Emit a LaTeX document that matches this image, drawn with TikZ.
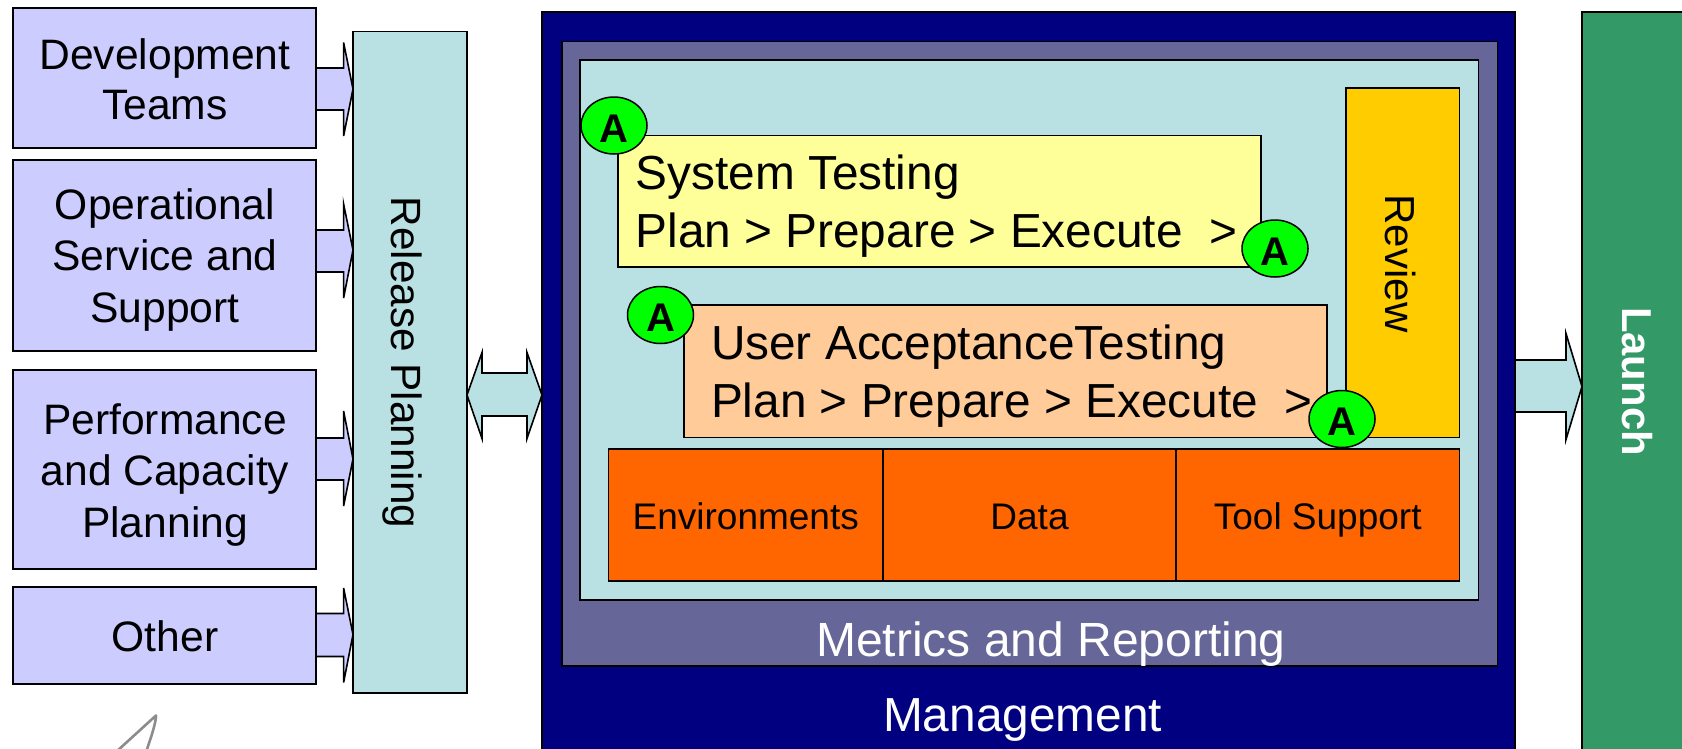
\documentclass[tikz,border=0pt]{standalone}
\usepackage{fontspec}
\setmainfont{Liberation Sans}
\usetikzlibrary{shapes.geometric}
\definecolor{lav}{HTML}{CCCCFF}
\definecolor{pale}{HTML}{B9E0E2}
\definecolor{navy}{HTML}{000080}
\definecolor{slate}{HTML}{666699}
\definecolor{yel}{HTML}{FFFF99}
\definecolor{peach}{HTML}{FFCC99}
\definecolor{gold}{HTML}{FFCC00}
\definecolor{oran}{HTML}{FF6600}
\definecolor{grn}{HTML}{339966}
\definecolor{lime}{HTML}{00FF00}
\newcommand{\fs}[2]{\fontsize{#1}{#2}\selectfont}
\newcommand{\rbox}[6]{\node[panel,fill=#6,minimum width={(#3)-(#1)},minimum height={(#4)-(#2)},#5] at ({((#1)+(#3))/2},{((#2)+(#4))/2})}
\tikzset{
  x=1pt,y=-1pt,
  panel/.style={draw=black,line width=1.6pt,inner sep=0pt,outer sep=0pt,align=center,text=black},
  bigarrow/.style={draw=black,line width=1.6pt,line join=miter},
  badge/.style={ellipse,draw=black,line width=1.5pt,fill=lime,inner sep=0pt,outer sep=0pt,minimum width=66pt,minimum height=57pt,text height=33pt,text depth=0pt,font=\fs{40}{40}\bfseries},
  labelrot/.style={rotate=-90,anchor=base,inner sep=0pt,outer sep=0pt},
  sidetext/.style={inner sep=0pt,outer sep=0pt,align=center},
  stagetext/.style={anchor=base west,inner sep=0pt,outer sep=0pt,font=\fs{47.8}{58}},
  basetext/.style={text height=34pt,text depth=6pt,font=\fs{37}{37}}
}
\begin{document}
\begin{tikzpicture}
\useasboundingbox (0,0) rectangle (1682,748);
% arrows behind
\foreach \bt/\bb/\ht/\hb/\tp in {68/110/42.5/136/89,230/272/204/298/250,438/480/411/506/459,613.5/656.5/588/682.5/634.5}{
  \filldraw[bigarrow,fill=lav] (316,\bt) -- (343.6,\bt) -- (343.6,\ht) -- (353,\tp) -- (343.6,\hb) -- (343.6,\bb) -- (316,\bb);
}
\filldraw[bigarrow,fill=pale] (467,395) -- (482,352.5) -- (482,373) -- (527,373) -- (527,352.5) -- (542,395) -- (527,438.5) -- (527,416) -- (482,416) -- (482,438.5) -- cycle;
\filldraw[bigarrow,fill=pale] (1515,360) -- (1566,360) -- (1566,333.5) -- (1582,386.5) -- (1566,439.5) -- (1566,412) -- (1515,412);
% left
\rbox{13}{8}{316}{148}{}{lav} (dev) {};
\rbox{13}{160}{316}{351}{}{lav} (ops) {};
\rbox{13}{370}{316}{569}{}{lav} (perf) {};
\rbox{13}{587}{316}{684}{}{lav} (other) {};
\node[sidetext,font=\fs{42.6}{50}] (devt) at (165,79) {Development\\Teams};
\node[sidetext,font=\fs{42.6}{51.5}] (opst) at (165,259.5) {Operational\\Service and\\Support};
\node[sidetext,font=\fs{42.6}{51.5}] (perft) at (165,474.5) {Performance\\and Capacity\\Planning};
\node[sidetext,font=\fs{42.6}{50}] (othert) at (165,636.5) {Other};
\rbox{353}{31.5}{467}{693}{}{pale} (rel) {};
\node[labelrot,font=\fs{42.3}{42}] (reltxt) at (391,362.5) {Release Planning};
% management
\fill[navy] (542,12) rectangle (1515,760);
\draw[black,line width=1.6pt] (542,760) -- (542,12) -- (1515,12) -- (1515,760);
\rbox{562}{41.5}{1497.5}{666}{}{slate} (metrics) {};
\rbox{580}{60}{1478.5}{600}{}{pale} (inner) {};
\rbox{618}{135.5}{1261}{267}{}{yel} (sys) {};
\rbox{684}{305}{1327}{437.5}{}{peach} (uat) {};
\rbox{1346}{88}{1459.5}{437.5}{}{gold} (rev) {};
\node[labelrot,font=\fs{42}{42}] (revtxt) at (1385,263.5) {Review};
\rbox{608.5}{449}{883}{581}{basetext}{oran} (env) {Environments};
\rbox{883}{449}{1176}{581}{basetext}{oran} (data) {Data};
\rbox{1176}{449}{1459.5}{581}{basetext}{oran} (tool) {Tool Support};
\node[stagetext] (systxt1) at (635.5,189) {System Testing};
\node[stagetext] (systxt2) at (635.5,247.7) {Plan > Prepare > Execute\ \ >};
\node[stagetext] (uattxt1) at (711,359) {User AcceptanceTesting};
\node[stagetext] (uattxt2) at (711,417) {Plan > Prepare > Execute\ \ >};
\node[badge] (a1) at (614,125.5) {A};
\node[badge] (a2) at (660.5,315) {A};
\node[badge] (a3) at (1275,248.5) {A};
\node[badge] (a4) at (1342,419) {A};
\node[anchor=base,inner sep=0pt,text=white,font=\fs{48}{48}] (mt) at (1051,656) {Metrics and Reporting};
\node[anchor=base,inner sep=0pt,text=white,font=\fs{47.8}{48}] (mg) at (1022.6,731) {Management};
% launch
\fill[grn] (1582,12) rectangle (1700,760);
\draw[black,line width=1.2pt] (1700,12) -- (1582,12) -- (1582,760);
\node[labelrot,text=white,font=\fs{41.8}{42}\bfseries] (lt) at (1622,381.5) {Launch};
% stray pen stroke at the bottom
\draw[draw=black!45,line width=2.6pt,line join=round,line cap=round] (116,752) -- (156,715.5) .. controls (156,722) and (152,735) .. (146,752);
\end{tikzpicture}
\end{document}
